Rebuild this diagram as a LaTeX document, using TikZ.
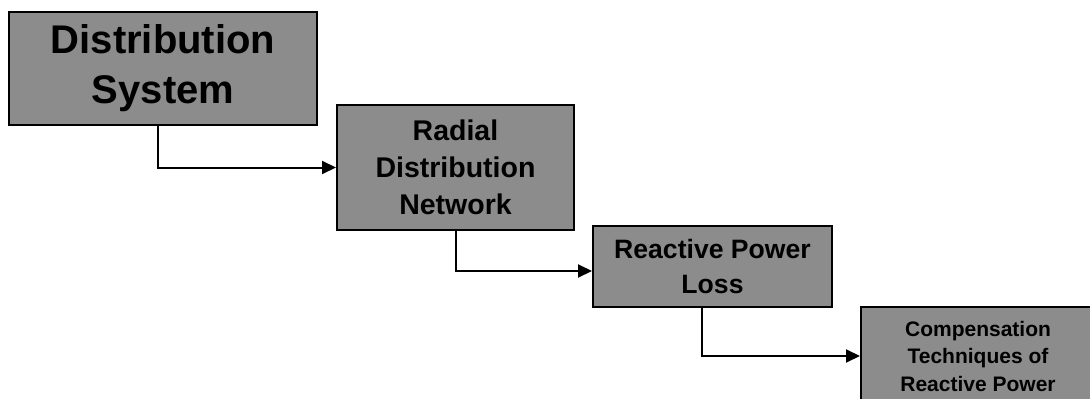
\documentclass[tikz,border=0pt]{standalone}
\usepackage{fontspec}
\setmainfont{Liberation Sans}
\usetikzlibrary{arrows.meta}
\begin{document}
\begin{tikzpicture}[x=1pt,y=-1pt,
  blk/.style={draw=black, line width=2pt, fill=black!45, align=center, inner sep=0pt, font=\bfseries},
  conn/.style={line width=2pt, -{Triangle[length=14pt,width=13pt]}}]
\useasboundingbox (0,0) rectangle (1090,399);
\node[blk, minimum width=308pt, minimum height=113pt, font=\bfseries\fontsize{40}{50}\selectfont] (b1) at (163,68.5) {Distribution\\System};
\node[blk, minimum width=237pt, minimum height=125pt, font=\bfseries\fontsize{28.5}{37}\selectfont] (b2) at (455.5,167.5) {Radial\\Distribution\\Network};
\node[blk, minimum width=239pt, minimum height=81pt, font=\bfseries\fontsize{26.6}{35}\selectfont] (b3) at (712.5,266.5) {Reactive Power\\Loss};
\node[blk, minimum width=234pt, minimum height=98pt, font=\bfseries\fontsize{21}{27.5}\selectfont] (b4) at (978,356) {Compensation\\Techniques of\\Reactive Power};
\draw[conn] ([xshift=-5pt]b1.south) |- (b2.west);
\draw[conn] (b2.south) |- ([yshift=-4.5pt]b3.west);
\draw[conn] ([xshift=-10.5pt]b3.south) |- (b4.west);
\end{tikzpicture}
\end{document}
